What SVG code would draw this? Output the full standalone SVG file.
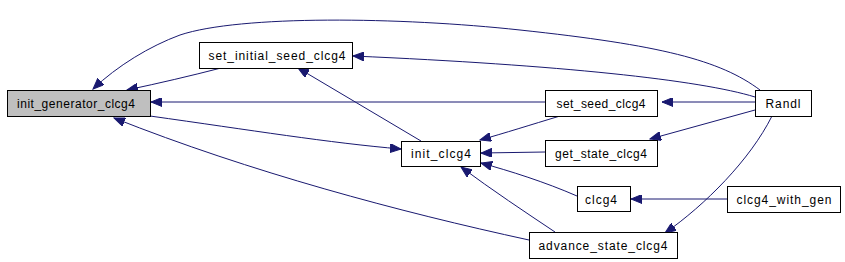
<svg xmlns="http://www.w3.org/2000/svg" width="845" height="262" viewBox="0 0 845 262">
<style>
.n rect{fill:#ffffff;stroke:#000000;stroke-width:1}
.n.g rect{fill:#bfbfbf}
.n text{font-family:"Liberation Sans",Arial,sans-serif;font-size:12px;fill:#000000;text-anchor:middle}
#edges path{fill:none;stroke:#191970;stroke-width:1;marker-end:url(#ah)}
</style>
<defs>
<marker id="ah" markerWidth="12" markerHeight="9" refX="11" refY="4.5" orient="auto" markerUnits="userSpaceOnUse">
<path d="M0,0 L11,4.5 L0,9 Z" fill="#191970" stroke="#191970"/>
</marker>
</defs>
<rect width="845" height="262" fill="#ffffff"/>
<g id="edges">
<path d="M760,90 C720,60 660,45 520,30 C400,17 240,15 180,35 C150,46 117,66 93,89"/>
<path d="M221,68 C190,76 160,83 127,90"/>
<path d="M545,102 L151,102"/>
<path d="M150,116 C250,130 330,143 401,149"/>
<path d="M529,240 C400,212 250,172 114,118"/>
<path d="M755,97 C700,80 560,65 353,56"/>
<path d="M421,141 L298,68"/>
<path d="M560,116 C530,125 505,133 480,140"/>
<path d="M545,152 L481,153"/>
<path d="M577,196 C545,182 510,171 481,163"/>
<path d="M555,232 C525,212 492,190 461,167"/>
<path d="M755,102 L662,102"/>
<path d="M755,110 L650,139"/>
<path d="M727,199 L631,199"/>
<path d="M772,116 C750,160 705,205 665,233"/>
</g>
<g id="init_generator_clcg4" class="n g"><rect x="7.5" y="90.5" width="143" height="26"/><text x="76" y="107.5" textLength="118" lengthAdjust="spacing">init_generator_clcg4</text></g>
<g id="set_initial_seed_clcg4" class="n"><rect x="199.5" y="42.5" width="153" height="26"/><text x="277" y="59.5" textLength="137" lengthAdjust="spacing">set_initial_seed_clcg4</text></g>
<g id="init_clcg4" class="n"><rect x="401.5" y="141.5" width="79" height="25"/><text x="441" y="158" textLength="60" lengthAdjust="spacing">init_clcg4</text></g>
<g id="set_seed_clcg4" class="n"><rect x="545.5" y="90.5" width="112" height="26"/><text x="601" y="107.5" textLength="89" lengthAdjust="spacing">set_seed_clcg4</text></g>
<g id="get_state_clcg4" class="n"><rect x="545.5" y="140.5" width="112" height="26"/><text x="601" y="157.5" textLength="92" lengthAdjust="spacing">get_state_clcg4</text></g>
<g id="clcg4" class="n"><rect x="577.5" y="186.5" width="53" height="25"/><text x="601" y="203.5" textLength="32" lengthAdjust="spacing">clcg4</text></g>
<g id="advance_state_clcg4" class="n"><rect x="529.5" y="232.5" width="148" height="26"/><text x="603" y="249.5" textLength="129" lengthAdjust="spacing">advance_state_clcg4</text></g>
<g id="Randl" class="n"><rect x="755.5" y="90.5" width="56" height="26"/><text x="783" y="107.5" textLength="35" lengthAdjust="spacing">Randl</text></g>
<g id="clcg4_with_gen" class="n"><rect x="727.5" y="186.5" width="113" height="26"/><text x="784" y="203.5" textLength="95" lengthAdjust="spacing">clcg4_with_gen</text></g>
</svg>
